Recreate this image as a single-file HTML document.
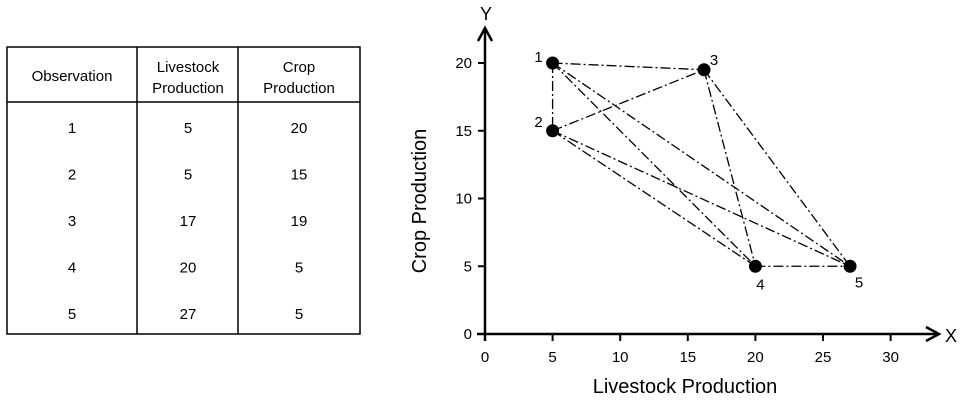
<!DOCTYPE html>
<html><head><meta charset="utf-8"><style>
body{margin:0;background:#fff;width:960px;height:403px;overflow:hidden;font-family:"Liberation Sans",sans-serif}
</style></head><body>
<svg width="960" height="403" font-family="Liberation Sans, sans-serif">
<g stroke="#000" stroke-width="1.5" fill="none">
<rect x="7" y="47" width="353" height="287"/>
<line x1="7" y1="102" x2="360" y2="102"/>
<line x1="137" y1="47" x2="137" y2="334"/>
<line x1="238" y1="47" x2="238" y2="334"/>
</g>
<g id="tbl" font-size="15" text-anchor="middle" fill="#000"></g>
<g id="chart"></g>
</svg>
<script>
const obs=["1","2","3","4","5"];
const livestock=[5,5,16.2,20,27];
const crop=[20,15,19.5,5,5];
const tableLivestock=["5","5","17","20","27"];
const tableCrop=["20","15","19","5","5"];
const xTicks=[0,5,10,15,20,25,30];
const yTicks=[0,5,10,15,20];
const NS="http://www.w3.org/2000/svg";
function mk(p,t,a,txt){const e=document.createElementNS(NS,t);for(const k in a)e.setAttribute(k,a[k]);if(txt!==undefined)e.textContent=txt;p.appendChild(e);return e;}
const X=v=>485+v*13.52, Y=v=>334-v*13.55;
const tbl=document.getElementById('tbl');
let h=mk(tbl,'text',{x:72,y:81},'Observation');
h=mk(tbl,'text',{x:188,y:72},'Livestock');
mk(tbl,'text',{x:188,y:93},'Production');
h=mk(tbl,'text',{x:299,y:72},'Crop');
mk(tbl,'text',{x:299,y:93},'Production');
obs.forEach((o,i)=>{const y=133+i*46.5;
 let c=mk(tbl,'text',{x:72,y:y},o);
 c=mk(tbl,'text',{x:188,y:y},tableLivestock[i]);
 c=mk(tbl,'text',{x:299,y:y},tableCrop[i]);});
const ch=document.getElementById('chart');
let ax=mk(ch,'line',{x1:477,y1:334,x2:938,y2:334,stroke:'#000','stroke-width':2.5});
mk(ch,'path',{d:'M926 327 L939 334 L926 341',stroke:'#000','stroke-width':2.5,fill:'none'});
ax=mk(ch,'line',{x1:485,y1:341,x2:485,y2:29,stroke:'#000','stroke-width':2.5});
mk(ch,'path',{d:'M478 41 L485 28 L492 41',stroke:'#000','stroke-width':2.5,fill:'none'});
xTicks.forEach(t=>{mk(ch,'line',{x1:X(t),y1:334,x2:X(t),y2:341,stroke:'#000','stroke-width':2});
 const e=mk(ch,'text',{x:X(t),y:362,'font-size':15,'text-anchor':'middle'},String(t));});
yTicks.forEach(t=>{mk(ch,'line',{x1:478,y1:Y(t),x2:485,y2:Y(t),stroke:'#000','stroke-width':2});
 const e=mk(ch,'text',{x:472,y:Y(t)+5,'font-size':15,'text-anchor':'end'},String(t));});
let t=mk(ch,'text',{x:685,y:393,'font-size':20,'text-anchor':'middle'},'Livestock Production');
t=mk(ch,'text',{x:0,y:0,'font-size':20,'text-anchor':'middle',transform:'translate(426,201) rotate(-90)'},'Crop Production');
t=mk(ch,'text',{x:486,y:20,'font-size':18,'text-anchor':'middle'},'Y');
t=mk(ch,'text',{x:951,y:342,'font-size':18,'text-anchor':'middle'},'X');
for(let i=0;i<obs.length;i++)for(let j=i+1;j<obs.length;j++){
 const l=mk(ch,'line',{x1:X(livestock[i]),y1:Y(crop[i]),x2:X(livestock[j]),y2:Y(crop[j]),stroke:'#000','stroke-width':1.3,'stroke-dasharray':'10 3 2 3'});
 }
const lo=[[-14,-1],[-14,-4],[10,-5],[5,23],[9,21]];
obs.forEach((o,i)=>{const c=mk(ch,'circle',{cx:X(livestock[i]),cy:Y(crop[i]),r:6.5,fill:'#000'});
 
 const e=mk(ch,'text',{x:X(livestock[i])+lo[i][0],y:Y(crop[i])+lo[i][1],'font-size':15,'text-anchor':'middle'},o);
 });
</script>
</body></html>
